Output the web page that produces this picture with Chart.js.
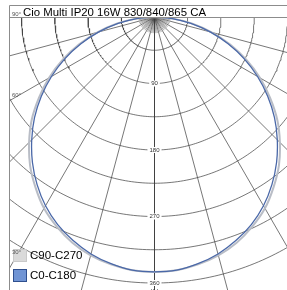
<!DOCTYPE html>
<html>
<head>
<meta charset="utf-8">
<script src="https://cdn.jsdelivr.net/npm/chart.js@4.4.0/dist/chart.umd.min.js"></script>
<style>
html, body { margin: 0; padding: 0; background: #fff; }
#wrap { width: 287px; height: 290px; position: relative; }
</style>
</head>
<body>
<div id="wrap"><canvas id="ldc"></canvas></div>
<script>
// luminous intensity distribution, cd/klm
const chartTitle = 'Cio Multi IP20 16W 830/840/865 CA';
const unitLabel = 'cd/klm';
const seriesNames = ['C90-C270', 'C0-C180'];

const gammaAngles = [0, 5, 10, 15, 20, 25, 30, 35, 40, 45, 50, 55, 60, 65, 70, 75, 80, 85, 90];
const c0c180 = [345, 344, 339, 332, 322, 310, 295, 277, 257, 235, 212, 187, 161, 134, 106, 78, 50, 24, 0];
const c90c270 = [345, 344, 340, 334, 325, 313, 299, 281, 262, 240, 217, 191, 165, 137, 109, 80, 52, 25, 0];

const rings = [45, 90, 135, 180, 225, 270, 315, 360];
const ringLabels = [90, 180, 270, 360];
const spokes = [-90, -75, -60, -45, -30, -15, 0, 15, 30, 45, 60, 75, 90];
const fineStep = 5;
const fineReach = 22;
const angleLabels = [90, 60, 30];

const rad = d => d * Math.PI / 180;
const polar = (g, i) => ({ x: i * Math.sin(rad(g)), y: i * Math.cos(rad(g)) });

function curve(values) {
  const pts = [];
  for (let k = gammaAngles.length - 1; k >= 0; k--) pts.push(polar(-gammaAngles[k], values[k]));
  for (let k = 1; k < gammaAngles.length; k++) pts.push(polar(gammaAngles[k], values[k]));
  return pts;
}

const gridColor = '#3c3c3c';
const datasets = [];

datasets.push({ data: curve(c0c180), borderColor: '#4a68a8', borderWidth: 1.3, order: 0, tension: 0.35 });
datasets.push({ data: curve(c90c270), borderColor: '#b9bdc6', borderWidth: 2, order: 1, tension: 0.35 });

rings.forEach(r => {
  const pts = [];
  for (let a = -90; a <= 90; a += 1) pts.push(polar(a, r));
  datasets.push({ data: pts, borderColor: gridColor, borderWidth: 0.7, order: 5, tension: 0 });
});
spokes.forEach(a => {
  datasets.push({ data: [polar(a, 0), polar(a, 900)], borderColor: gridColor, borderWidth: 0.7, order: 5, tension: 0 });
});
for (let a = -90 + fineStep; a < 90; a += fineStep) {
  if (spokes.includes(a)) continue;
  datasets.push({ data: [polar(a, 0), polar(a, fineReach)], borderColor: '#555', borderWidth: 0.5, order: 5, tension: 0 });
}
datasets.forEach(d => { d.showLine = true; d.pointRadius = 0; d.fill = false; });

const pxPerCd = 266 / 360;
const originX = 154.5, plotLeft = 10, plotTop = 17;

const decor = {
  id: 'decor',
  beforeDraw(chart) {
    const ctx = chart.ctx;
    ctx.save();
    ctx.fillStyle = '#fff';
    ctx.fillRect(0, 0, chart.width, chart.height);
    ctx.restore();
  },
  afterDatasetsDraw(chart) {
    const ctx = chart.ctx;
    const xs = chart.scales.x, ys = chart.scales.y;
    ctx.save();
    // frame
    ctx.strokeStyle = '#8c8c8c';
    ctx.lineWidth = 1;
    ctx.beginPath();
    ctx.moveTo(9.5, chart.height);
    ctx.lineTo(9.5, 5.5);
    ctx.lineTo(chart.width, 5.5);
    ctx.moveTo(9.5, 17.5);
    ctx.lineTo(chart.width, 17.5);
    ctx.stroke();

    // title
    ctx.fillStyle = '#000';
    ctx.font = '11.4px "Liberation Sans", Arial, sans-serif';
    ctx.textBaseline = 'alphabetic';
    ctx.textAlign = 'left';
    ctx.fillText(chartTitle, 23, 16);

    // ring labels
    ctx.font = '6px "Liberation Sans", Arial, sans-serif';
    ctx.textAlign = 'center';
    ctx.textBaseline = 'middle';
    const cx = xs.getPixelForValue(0);
    ringLabels.forEach(r => {
      const py = ys.getPixelForValue(r);
      const w = ctx.measureText(String(r)).width + 4;
      ctx.fillStyle = '#fff';
      ctx.fillRect(cx - w / 2, py - 3, w, 6);
      ctx.fillStyle = '#333';
      ctx.fillText(String(r), cx, py);
    });
    const yLast = ys.getPixelForValue(rings[rings.length - 1]);
    ctx.fillText(unitLabel, cx, yLast + 8);

    // legend
    const sw = [
      { name: seriesNames[0], fill: '#dadada', stroke: '#c9c9c9', y: 249 },
      { name: seriesNames[1], fill: '#7094d4', stroke: '#2f4f8e', y: 269 }
    ];
    ctx.font = '11.5px "Liberation Sans", Arial, sans-serif';
    ctx.textAlign = 'left';
    ctx.textBaseline = 'middle';
    sw.forEach(s => {
      ctx.fillStyle = s.fill;
      ctx.fillRect(13, s.y, 14, 13);
      ctx.strokeStyle = s.stroke;
      ctx.lineWidth = 1;
      ctx.strokeRect(13.5, s.y + 0.5, 13, 12);
      ctx.fillStyle = '#000';
      ctx.fillText(s.name, 30, s.y + 7);
    });

    // gamma labels just above their spoke at the left edge
    ctx.font = '6px "Liberation Sans", Arial, sans-serif';
    ctx.fillStyle = '#555';
    angleLabels.forEach(a => {
      const t = rad(a + 1.5);
      const yv = -xs.min * Math.cos(t) / Math.sin(t);
      const py = Math.max(ys.getPixelForValue(yv), 14);
      ctx.fillText(a + '°', chart.chartArea.left + 2, py);
    });
    ctx.restore();
  }
};

new Chart(document.getElementById('ldc'), {
  type: 'scatter',
  data: { datasets },
  options: {
    responsive: true,
    maintainAspectRatio: false,
    animation: false,
    events: [],
    layout: { padding: { left: plotLeft, top: plotTop, right: 0, bottom: 0 } },
    plugins: { legend: { display: false }, tooltip: { enabled: false } },
    scales: {
      x: { type: 'linear', display: false, min: (plotLeft - originX) / pxPerCd, max: (287 - originX) / pxPerCd },
      y: { type: 'linear', display: false, reverse: true, min: 0, max: (290 - plotTop) / pxPerCd }
    }
  },
  plugins: [decor]
});
</script>
</body>
</html>
